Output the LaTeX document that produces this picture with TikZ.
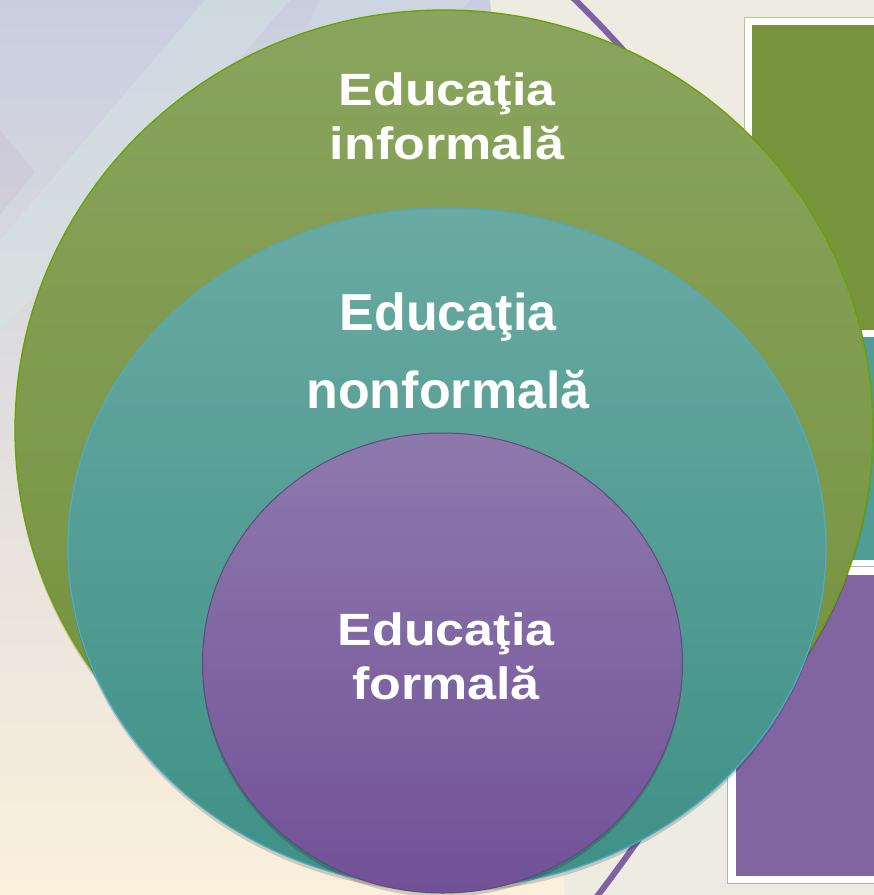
\documentclass[tikz,border=0pt]{standalone}
\usepackage{fontspec}
\setmainfont{Liberation Sans}
\usetikzlibrary{shadows}
\definecolor{bgbeige}{HTML}{EDEBE2}
\definecolor{bgtop}{HTML}{C9CEDF}
\definecolor{bgmid}{HTML}{E6E5DC}
\definecolor{bgcream}{HTML}{FBF0DC}
\definecolor{bgband}{HTML}{D6E6E4}
\definecolor{lineP}{HTML}{7F62A1}
\definecolor{boxgreen}{HTML}{77933C}
\definecolor{boxgreenedge}{HTML}{B5C98F}
\definecolor{boxteal}{HTML}{4F9D95}
\definecolor{boxpurple}{HTML}{8065A1}
\definecolor{boxpurpleedge}{HTML}{B9A9CF}
\definecolor{gTop}{HTML}{8AA45E}
\definecolor{gBot}{HTML}{73903A}
\definecolor{gEdge}{HTML}{6AA000}
\definecolor{tTop}{HTML}{69AAA2}
\definecolor{tBot}{HTML}{3E9086}
\definecolor{tEdge}{HTML}{4BACC6}
\definecolor{pTop}{HTML}{8E79AD}
\definecolor{pBot}{HTML}{715197}
\definecolor{pEdge}{HTML}{5E4A7C}
\newcommand\twoline[3]{\vtop{\baselineskip=#3\lineskiplimit=-100pt\halign{\hfil##\hfil\cr#1\cr#2\cr}}}
\tikzset{
  ringshadow/.style={drop shadow={shadow xshift=0pt, shadow yshift=-4pt, opacity=0.16, fill=black}},
  lab/.style={anchor=base, inner sep=0pt, text=white, font=\fontsize{52}{60}\selectfont\bfseries},
  frameedge/.style={fill=#1},
  innerbox/.style={fill=#1}
}
\begin{document}
\begin{tikzpicture}[x=1pt,y=-1pt]
\useasboundingbox (0,0) rectangle (874,895);
% background
\fill[bgbeige] (0,0) rectangle (874,895);
\shade[top color=bgtop, middle color=bgmid, bottom color=bgcream] (0,0) -- (490,0) -- (565,895) -- (0,895) -- cycle;
\fill[bgband, opacity=0.45] (205,0) -- (290,0) -- (40,290) -- (0,330) -- (0,240) -- cycle;
\fill[bgband, opacity=0.3] (320,0) -- (470,0) -- (420,60) -- (290,60) -- cycle;
\fill[violet, opacity=0.04] (0,130) -- (35,172) -- (0,215) -- cycle;
% purple curve behind
\draw[line width=6pt, lineP] (567,-8) .. controls (888,300) and (830,595) .. (592,903);
% right boxes
\fill[frameedge=boxgreenedge] (744,17) rectangle (890,338);
\fill[white] (745,18) rectangle (890,337);
\fill[innerbox=boxgreen] (752,25) rectangle (890,330);
\fill[white] (745,330) rectangle (890,567);
\fill[innerbox=boxteal] (752,337) rectangle (890,560);
\fill[frameedge=boxpurpleedge] (727,566) rectangle (890,884);
\fill[white] (728,567) rectangle (890,883);
\fill[innerbox=boxpurple] (736,575) rectangle (890,876);
% nested ellipses
\draw[ringshadow, draw=gEdge, line width=1.3pt, top color=gTop, bottom color=gBot]
  (444,430) ellipse [x radius=429pt, y radius=420pt];
\draw[ringshadow, draw=tEdge, line width=1.3pt, top color=tTop, bottom color=tBot]
  (447,548) ellipse [x radius=379pt, y radius=340pt];
\draw[ringshadow, draw=pEdge, line width=1pt, top color=pTop, bottom color=pBot]
  (442.5,663) ellipse [x radius=240pt, y radius=230pt];
% labels
\node[lab] (informal) at (447,105) {\scalebox{1}[0.87]{\twoline{Educaţia}{informală}{63.2pt}}};
\node[lab] (nonformal) at (448,330) {\twoline{Educaţia}{nonformală}{78pt}};
\node[lab] (formal) at (446,645) {\scalebox{1}[0.87]{\twoline{Educaţia}{formală}{63.2pt}}};
\end{tikzpicture}
\end{document}
